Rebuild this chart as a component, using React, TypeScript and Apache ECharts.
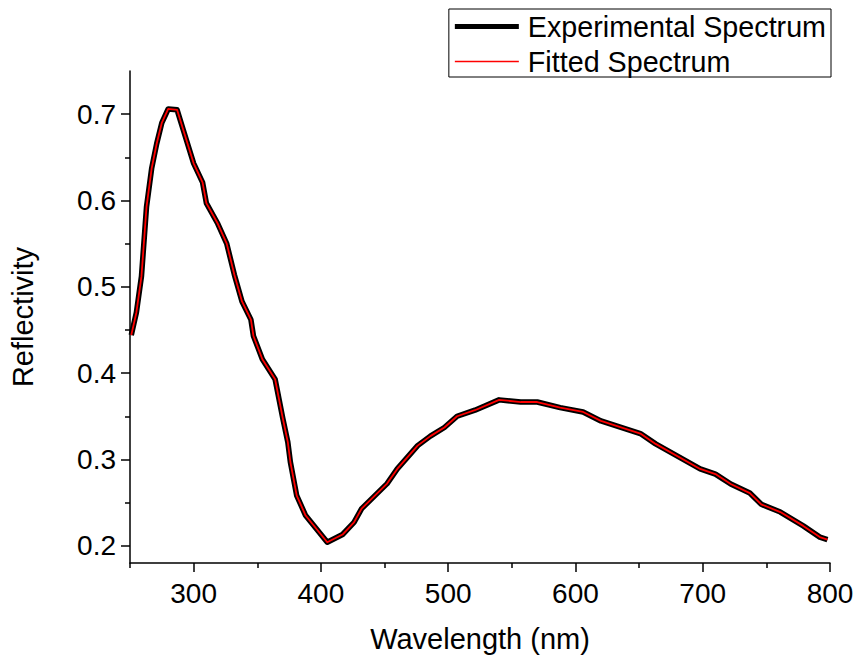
import React, { useEffect, useRef } from "react";
import * as echarts from "echarts";

const wavelengths = [
  251, 255, 259, 263, 267, 271, 275, 280, 287, 292, 300, 307, 310, 319, 326, 332,
  338, 345, 347, 354, 364, 370, 374, 376, 381, 388, 405, 417, 426, 432, 452, 460,
  476, 486, 497, 507, 521, 540, 557, 570, 588, 606, 620, 651, 663, 698, 710, 722,
  737, 746, 761, 779, 792, 798,
];

const experimental = [
  0.444, 0.47, 0.512, 0.593, 0.637, 0.666, 0.69, 0.706, 0.705, 0.681, 0.643, 0.621,
  0.597, 0.573, 0.55, 0.514, 0.483, 0.462, 0.443, 0.416, 0.393, 0.348, 0.32, 0.297,
  0.258, 0.235, 0.204, 0.213, 0.227, 0.243, 0.272, 0.289, 0.316, 0.327, 0.337, 0.35,
  0.357, 0.369, 0.3665, 0.3665, 0.36, 0.355, 0.3446, 0.33, 0.318, 0.289, 0.283,
  0.2715, 0.261, 0.248, 0.239, 0.223, 0.21, 0.207,
];

const fitted = [
  0.444, 0.47, 0.512, 0.593, 0.637, 0.666, 0.69, 0.706, 0.705, 0.681, 0.643, 0.621,
  0.597, 0.573, 0.55, 0.514, 0.483, 0.462, 0.443, 0.416, 0.393, 0.348, 0.32, 0.297,
  0.258, 0.235, 0.204, 0.213, 0.227, 0.243, 0.272, 0.289, 0.316, 0.327, 0.337, 0.35,
  0.357, 0.369, 0.3665, 0.3665, 0.36, 0.355, 0.3446, 0.33, 0.318, 0.289, 0.283,
  0.2715, 0.261, 0.248, 0.239, 0.223, 0.21, 0.207,
];

const xMajorTicks = [300, 400, 500, 600, 700, 800];
const xMinorTicks = [250, 350, 450, 550, 650, 750];
const yMajorTicks = [0.2, 0.3, 0.4, 0.5, 0.6, 0.7];
const yMinorTicks = [0.25, 0.35, 0.45, 0.55, 0.65];

const FONT = "Liberation Sans, Arial, sans-serif";

export default function App() {
  const ref = useRef<HTMLDivElement>(null);
  useEffect(() => {
    if (!ref.current) return;
    const chart = echarts.init(ref.current, undefined, { renderer: "svg" });
    const axisLine = { show: true, lineStyle: { color: "#000", width: 1.5 } };
    const expData = wavelengths.map((w, i) => [w, experimental[i]]);
    const fitData = wavelengths.map((w, i) => [w, fitted[i]]);
    chart.setOption({
      animation: false,
      backgroundColor: "#fff",
      grid: { left: 129, right: 27, top: 71, bottom: 94, containLabel: false },
      legend: {
        orient: "vertical",
        right: 26,
        top: 9,
        padding: [3, 5, 1, 6],
        itemGap: 6,
        itemWidth: 64,
        itemHeight: 28,
        borderColor: "#000",
        borderWidth: 1,
        borderRadius: 0,
        backgroundColor: "#fff",
        textStyle: { fontSize: 28.7, fontFamily: FONT, color: "#000", padding: [0, 0, 0, 4] },
        data: [
          {
            name: "Experimental Spectrum",
            icon: "path://M0,0H64V5H0Z",
            itemStyle: { color: "#000", borderWidth: 0 },
          },
          {
            name: "Fitted Spectrum",
            icon: "path://M0,0H64V1.6H0Z",
            itemStyle: { color: "#ff0000", borderWidth: 0 },
          },
        ],
      },
      xAxis: [
        {
          type: "value",
          min: 250,
          max: 800,
          name: "Wavelength (nm)",
          nameLocation: "middle",
          nameGap: 61,
          nameTextStyle: { fontSize: 29, fontFamily: FONT, color: "#000" },
          axisLine,
          axisTick: { show: true, length: 9, lineStyle: { color: "#000", width: 1.5 }, customValues: xMajorTicks },
          axisLabel: { fontSize: 28, fontFamily: FONT, color: "#000", margin: 16, customValues: xMajorTicks },
          splitLine: { show: false },
        },
        {
          type: "value",
          min: 250,
          max: 800,
          position: "bottom",
          axisLine: { show: false },
          axisTick: { show: true, length: 5, lineStyle: { color: "#000", width: 1.5 }, customValues: xMinorTicks },
          axisLabel: { show: false },
          splitLine: { show: false },
        },
      ],
      yAxis: [
        {
          type: "value",
          min: 0.18,
          max: 0.75,
          name: "Reflectivity",
          nameLocation: "middle",
          nameGap: 93,
          nameTextStyle: { fontSize: 29, fontFamily: FONT, color: "#000" },
          axisLine,
          axisTick: { show: true, length: 9, lineStyle: { color: "#000", width: 1.5 }, customValues: yMajorTicks },
          axisLabel: {
            fontSize: 28,
            fontFamily: FONT,
            color: "#000",
            margin: 14,
            customValues: yMajorTicks,
            formatter: (v: number) => v.toFixed(1),
          },
          splitLine: { show: false },
        },
        {
          type: "value",
          min: 0.18,
          max: 0.75,
          position: "left",
          axisLine: { show: false },
          axisTick: { show: true, length: 5, lineStyle: { color: "#000", width: 1.5 }, customValues: yMinorTicks },
          axisLabel: { show: false },
          splitLine: { show: false },
        },
      ],
      series: [
        {
          name: "Experimental Spectrum",
          type: "line",
          data: expData,
          symbol: "none",
          lineStyle: { color: "#000", width: 5.5, join: "round" },
          itemStyle: { color: "#000" },
          z: 2,
        },
        {
          name: "Fitted Spectrum",
          type: "line",
          data: fitData,
          symbol: "none",
          lineStyle: { color: "#ff0000", width: 1.8, join: "round" },
          itemStyle: { color: "#ff0000" },
          z: 3,
        },
      ],
    });
    return () => chart.dispose();
  }, []);
  return (
    <div
      ref={ref}
      style={{ position: "fixed", left: 0, top: 0, width: 857, height: 658, background: "#fff" }}
    />
  );
}
